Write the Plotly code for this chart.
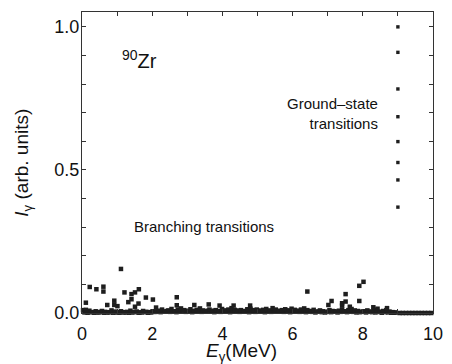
import plotly.graph_objects as go

# Ground-state transitions (E = 9 MeV)
gs_energy = [9.0, 9.0, 9.0, 9.0, 9.0, 9.0, 9.0, 9.0]
gs_intensity = [1.0, 0.911, 0.783, 0.686, 0.599, 0.526, 0.465, 0.370]

# Branching transitions (clearly resolved points)
br_energy = [0.11, 0.11, 0.22, 0.41, 0.61, 0.61, 0.72, 0.92, 0.92, 1.01, 1.11, 1.21, 1.32,
             1.41, 1.41, 1.51, 1.51, 1.61, 1.62, 1.82, 2.02, 2.11, 2.70, 2.70, 3.20, 3.61,
             3.92, 4.32, 4.79, 6.42, 7.02, 7.11, 7.41, 7.41, 7.51, 7.51, 7.63, 7.90, 7.90,
             8.02, 8.30, 8.42, 8.69]
br_intensity = [0.036, 0.011, 0.091, 0.083, 0.092, 0.075, 0.028, 0.043, 0.028, 0.024, 0.154,
                0.072, 0.038, 0.066, 0.048, 0.072, 0.022, 0.033, 0.083, 0.054, 0.047, 0.019,
                0.055, 0.027, 0.028, 0.030, 0.026, 0.026, 0.026, 0.075, 0.028, 0.042, 0.034,
                0.026, 0.066, 0.040, 0.022, 0.095, 0.042, 0.109, 0.020, 0.015, 0.017]

# Weak transitions forming the dense band near zero
weak_energy = [0.03, 0.12, 0.21, 0.30, 0.39, 0.48, 0.57, 0.66, 0.75, 0.84, 0.93, 1.02, 1.11,
               1.20, 1.29, 1.38, 1.47, 1.56, 1.65, 1.74, 1.83, 1.92, 2.01, 2.10, 2.19, 2.28,
               2.37, 2.46, 2.55, 2.64, 2.73, 2.82, 2.91, 3.00, 3.09, 3.18, 3.27, 3.36, 3.45,
               3.54, 3.63, 3.72, 3.81, 3.90, 3.99, 4.08, 4.17, 4.26, 4.35, 4.44, 4.53, 4.62,
               4.71, 4.80, 4.89, 4.98, 5.07, 5.16, 5.25, 5.34, 5.43, 5.52, 5.61, 5.70, 5.79,
               5.88, 5.97, 6.06, 6.15, 6.24, 6.33, 6.42, 6.51, 6.60, 6.69, 6.78, 6.87, 6.96,
               7.05, 7.14, 7.23, 7.32, 7.41, 7.50, 7.59, 7.68, 7.77, 7.86, 7.95, 8.04, 8.13,
               8.22, 8.31, 8.40, 8.49, 8.58, 8.67, 8.76, 8.85, 8.94,
               9.05, 9.14, 9.23, 9.32, 9.41, 9.50, 9.59, 9.68, 9.77, 9.86, 9.95]
weak_intensity = [0.010, 0.004, 0.008, 0.003, 0.006, 0.002, 0.007, 0.004, 0.002, 0.009, 0.005,
                  0.003, 0.006, 0.002, 0.004, 0.008, 0.003, 0.005, 0.002, 0.007, 0.004, 0.003,
                  0.006, 0.004, 0.008, 0.012, 0.005, 0.009, 0.014, 0.006, 0.012, 0.016, 0.010,
                  0.008, 0.013, 0.007, 0.011, 0.016, 0.009, 0.006, 0.012, 0.008, 0.010, 0.007,
                  0.014, 0.009, 0.012, 0.017, 0.011, 0.008, 0.010, 0.006, 0.013, 0.015, 0.010,
                  0.012, 0.008, 0.011, 0.014, 0.009, 0.017, 0.012, 0.008, 0.010, 0.013, 0.009,
                  0.015, 0.011, 0.008, 0.012, 0.016, 0.010, 0.007, 0.011, 0.005, 0.009, 0.006,
                  0.004, 0.010, 0.007, 0.005, 0.008, 0.012, 0.006, 0.010, 0.014, 0.009, 0.007,
                  0.004, 0.006, 0.009, 0.005, 0.008, 0.011, 0.004, 0.007, 0.010, 0.005, 0.003,
                  0.002,
                  0.0, 0.0, 0.0, 0.0, 0.0, 0.0, 0.0, 0.0, 0.0, 0.0, 0.0]

# Further very weak transitions lying on the baseline
faint_energy = [0.07, 0.16, 0.25, 0.35, 0.44, 0.53, 0.62, 0.71, 0.80, 0.89, 0.98, 1.07, 1.16,
                1.25, 1.34, 1.43, 1.52, 1.61, 1.70, 1.79, 1.88, 1.97, 2.06, 2.15, 2.24, 2.33,
                2.42, 2.51, 2.60, 2.69, 2.78, 2.87, 2.96, 3.05, 3.14, 3.23, 3.32, 3.41, 3.50,
                3.59, 3.68, 3.77, 3.86, 3.95, 4.04, 4.13, 4.22, 4.31, 4.40, 4.49, 4.58, 4.67,
                4.76, 4.85, 4.94, 5.03, 5.12, 5.21, 5.30, 5.39, 5.48, 5.57, 5.66, 5.75, 5.84,
                5.93, 6.02, 6.11, 6.20, 6.29, 6.38, 6.47, 6.56, 6.65, 6.74, 6.83, 6.92, 7.01,
                7.10, 7.19, 7.28, 7.37, 7.46, 7.55, 7.64, 7.73, 7.82, 7.91, 8.00, 8.09, 8.18,
                8.27, 8.36, 8.45, 8.54, 8.63, 8.72, 8.81, 8.90]
faint_intensity = [0.002, 0.001, 0.003, 0.001, 0.002, 0.004, 0.001, 0.002, 0.003, 0.001, 0.002,
                   0.001, 0.003, 0.002, 0.001, 0.002, 0.004, 0.001, 0.002, 0.003, 0.001, 0.002,
                   0.004, 0.006, 0.003, 0.005, 0.007, 0.004, 0.006, 0.003, 0.005, 0.008, 0.004,
                   0.006, 0.003, 0.007, 0.005, 0.004, 0.006, 0.008, 0.005, 0.003, 0.006, 0.004,
                   0.007, 0.005, 0.003, 0.006, 0.008, 0.004, 0.005, 0.007, 0.003, 0.006, 0.004,
                   0.008, 0.005, 0.003, 0.006, 0.004, 0.007, 0.005, 0.006, 0.004, 0.008, 0.003,
                   0.005, 0.007, 0.004, 0.006, 0.003, 0.005, 0.004, 0.002, 0.005, 0.003, 0.002,
                   0.004, 0.003, 0.006, 0.002, 0.004, 0.005, 0.003, 0.006, 0.004, 0.002, 0.003,
                   0.005, 0.002, 0.004, 0.003, 0.002, 0.004, 0.001, 0.003, 0.002, 0.001, 0.001]

FONT = "Liberation Sans, Arial, sans-serif"
INK = "#1e1e1e"

fig = go.Figure()
for xs, ys, sz in [(faint_energy, faint_intensity, 4.5), (weak_energy, weak_intensity, 4.5),
                   (br_energy, br_intensity, 4.5), (gs_energy, gs_intensity, 3.4)]:
    fig.add_trace(go.Scatter(x=xs, y=ys, mode="markers",
                             marker=dict(symbol="square", size=sz, color=INK, line=dict(width=0)),
                             cliponaxis=False, showlegend=False))

fig.add_annotation(x=1.63, y=0.885, xref="x", yref="y",
                   text="<sup>90</sup>Zr", showarrow=False,
                   font=dict(family=FONT, size=20, color="#111"))
fig.add_annotation(x=3.47, y=0.302, xref="x", yref="y",
                   text="Branching transitions", showarrow=False,
                   font=dict(family=FONT, size=15, color="#111"))
fig.add_annotation(x=8.5, y=0.698, xref="x", yref="y", xanchor="right",
                   text="Ground\u2013state<br>transitions", showarrow=False, align="right",
                   font=dict(family=FONT, size=15, color="#111"))

# Axis titles placed as text (pixel positions converted below)
fig.add_annotation(x=246, y=352, xref="paper", yref="paper", showarrow=False,
                   xanchor="center", yanchor="middle",
                   text="<i>E</i><sub>γ</sub>(MeV)", font=dict(family=FONT, size=19, color="#111"))
fig.add_annotation(x=21, y=163, xref="paper", yref="paper", showarrow=False, textangle=-90,
                   xanchor="center", yanchor="middle",
                   text="<i>I</i><sub>γ</sub> (arb. units)", font=dict(family=FONT, size=19, color="#111"))

axis_common = dict(showgrid=False, zeroline=False, showline=True, linecolor="#333",
                   linewidth=1, mirror="allticks", ticks="inside", ticklen=4,
                   tickcolor="#333", ticklabeloverflow="allow",
                   tickfont=dict(family=FONT, size=18, color="#111"))

fig.update_xaxes(range=[0, 10], dtick=2, tick0=0, ticklabelstandoff=4,
                 minor=dict(dtick=1, ticks="inside", ticklen=4, tickcolor="#333"),
                 **axis_common)
fig.update_yaxes(range=[0, 1.052], dtick=0.5, tick0=0, tickformat=".1f", ticklabelstandoff=-2,
                 minor=dict(dtick=0.1, ticks="inside", ticklen=4, tickcolor="#333"),
                 **axis_common)

# convert paper-pixel annotations to paper fractions
L, R, T, B, W, H = 82, 9, 12, 51, 452, 364
pw, ph = W - L - R, H - T - B
for ann in fig.layout.annotations:
    if ann.xref == "paper":
        ann.x = (ann.x - L) / pw
        ann.y = (H - B - ann.y) / ph

fig.update_layout(width=W, height=H, margin=dict(l=L, r=R, t=T, b=B),
                  plot_bgcolor="white", paper_bgcolor="white")

fig.write_html("out.html")
